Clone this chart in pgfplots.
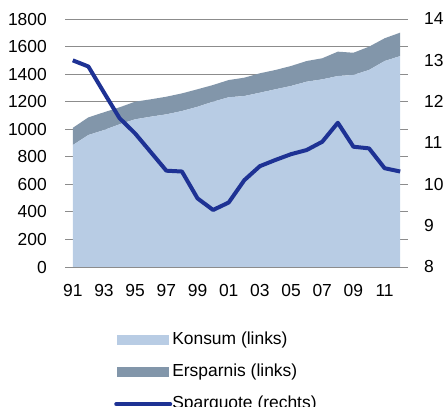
\documentclass[border=0pt]{standalone}
\usepackage{fontspec}
\setmainfont{Liberation Sans}
\usepackage{pgfplots}
\pgfplotsset{compat=1.18}
\usepackage{pgfplotstable}
\definecolor{konsum}{RGB}{184,204,228}
\definecolor{erspar}{RGB}{130,150,170}
\definecolor{sparq}{RGB}{30,50,148}
\definecolor{gridc}{RGB}{140,140,140}

\pgfplotstableread{
x k e q
0 885 125 13.00
1 958 128 12.85
2 994 129 12.22
3 1036 123 11.60
4 1072 128 11.23
5 1091 126 10.78
6 1108 128 10.33
7 1132 128 10.31
8 1163 127 9.66
9 1200 121 9.38
10 1232 125 9.56
11 1241 133 10.10
12 1265 141 10.44
13 1290 140 10.59
14 1314 145 10.73
15 1345 150 10.83
16 1362 153 11.03
17 1386 177 11.49
18 1394 161 10.91
19 1430 169 10.87
20 1495 165 10.39
21 1531 170 10.31
}\data

\pgfplotsset{
  common/.style={
    at={(65bp,140bp)}, anchor=south west, scale only axis,
    width=343bp, height=248bp, xmin=-0.5, xmax=21.5,
    major tick length=0pt,
    /pgf/number format/assume math mode=true,
    /pgf/number format/1000 sep={},
    every tick label/.append style={font=\fontsize{17.5}{21}\selectfont, inner sep=0pt},
  }
}

\begin{document}
\begin{tikzpicture}
\clip (0,0) rectangle (446bp,407bp);
\begin{axis}[common,
  ymin=0, ymax=1800, ytick={0,200,...,1800},
  xtick={0,2,...,20},
  xticklabels={91,93,95,97,99,01,03,05,07,09,11},
  axis x line*=bottom, axis y line*=left,
  x axis line style={-, draw=gridc, line width=0.8bp},
  y axis line style={draw=none},
  ymajorgrids, grid style={gridc, line width=0.8bp},
  xticklabel style={yshift=-17bp},
  yticklabel style={xshift=-18bp},
  stack plots=y,
  legend style={at={(0.143,-0.262)}, anchor=north west, draw=none, fill=none,
    inner sep=0pt, row sep=16bp,
    nodes={inner sep=0pt, text height=12.5bp, text depth=3.5bp},
    font=\fontsize{17.5}{21}\selectfont,
    /tikz/every even column/.append style={column sep=5bp}},
  legend cell align=left,
]
\addplot[fill=konsum, draw=none,
  legend image code/.code={\fill[konsum] (0bp,-5bp) rectangle (52bp,5bp);}]
  table[x=x,y=k]{\data} \closedcycle;
\addlegendentry{Konsum (links)}
\addplot[fill=erspar, draw=none,
  legend image code/.code={\fill[erspar] (0bp,-5bp) rectangle (52bp,5bp);}]
  table[x=x,y=e]{\data} \closedcycle;
\addlegendentry{Ersparnis (links)}
\addlegendimage{legend image code/.code={\draw[sparq, line width=4bp, line cap=round] (-1bp,0bp) -- (53bp,0bp);}}
\addlegendentry{Sparquote (rechts)}
\end{axis}
\begin{axis}[common,
  ymin=8, ymax=14, ytick={8,...,14},
  axis x line=none, axis y line*=right,
  y axis line style={draw=none},
  yticklabel style={xshift=16bp},
]
\addplot[sparq, line width=4bp, line join=round] table[x=x,y=q]{\data};
\end{axis}
\end{tikzpicture}
\end{document}
